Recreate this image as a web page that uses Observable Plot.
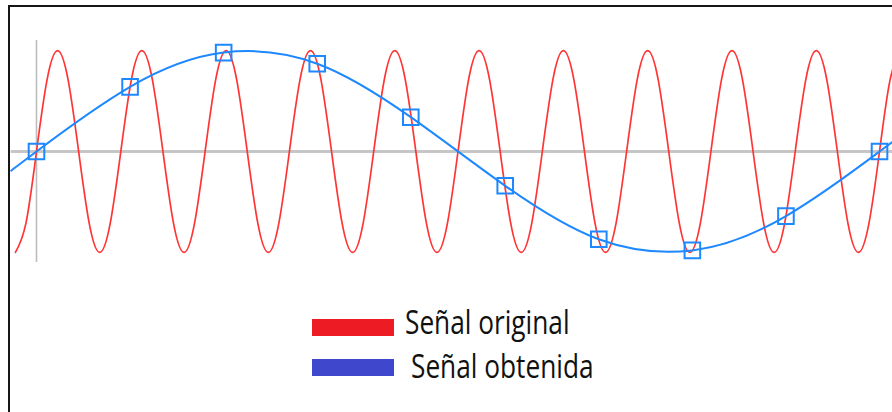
<!DOCTYPE html>
<html>
<head>
<meta charset="utf-8">
<script src="https://cdn.jsdelivr.net/npm/d3@7"></script>
<script src="https://cdn.jsdelivr.net/npm/@observablehq/plot@0.6"></script>
<style>
  body { margin: 0; background: #fff; }
  #lienzo { position: relative; width: 892px; height: 412px; overflow: hidden; }
  #grafico { position: absolute; left: 0; top: 0; }
  #marco { position: absolute; left: 8px; top: 5px; width: 2000px; height: 2000px;
           border-left: 2px solid #161616; border-top: 2px solid #161616; }
  .barra { position: absolute; width: 82px; height: 17px; }
  .texto { position: absolute; font-family: "Open Sans", sans-serif; font-size: 32px;
           line-height: 32px; color: #111; white-space: nowrap;
           transform: scaleX(0.82); transform-origin: left center; }
</style>
</head>
<body>
<div id="lienzo">
  <div id="grafico"></div>
  <div id="marco"></div>
  <div id="leyenda"></div>
</div>
<script>
// Señal original: una senoide de periodo 1 (puntos cada octavo de periodo)
const tiempoOriginal = [
  -0.25,-0.125,0,0.125,0.25,0.375,0.5,0.625,
  0.75,0.875,1,1.125,1.25,1.375,1.5,1.625,
  1.75,1.875,2,2.125,2.25,2.375,2.5,2.625,
  2.75,2.875,3,3.125,3.25,3.375,3.5,3.625,
  3.75,3.875,4,4.125,4.25,4.375,4.5,4.625,
  4.75,4.875,5,5.125,5.25,5.375,5.5,5.625,
  5.75,5.875,6,6.125,6.25,6.375,6.5,6.625,
  6.75,6.875,7,7.125,7.25,7.375,7.5,7.625,
  7.75,7.875,8,8.125,8.25,8.375,8.5,8.625,
  8.75,8.875,9,9.125,9.25,9.375,9.5,9.625,
  9.75,9.875,10,10.125,10.25
];
const valorOriginal = [
  -1,-0.71,0,0.71,1,0.71,0,-0.71,
  -1,-0.71,0,0.71,1,0.71,0,-0.71,
  -1,-0.71,0,0.71,1,0.71,0,-0.71,
  -1,-0.71,0,0.71,1,0.71,0,-0.71,
  -1,-0.71,0,0.71,1,0.71,0,-0.71,
  -1,-0.71,0,0.71,1,0.71,0,-0.71,
  -1,-0.71,0,0.71,1,0.71,0,-0.71,
  -1,-0.71,0,0.71,1,0.71,0,-0.71,
  -1,-0.71,0,0.71,1,0.71,0,-0.71,
  -1,-0.71,0,0.71,1,0.71,0,-0.71,
  -1,-0.71,0,0.71,1
];

// Instantes de muestreo y valores muestreados
const tiempoMuestras = [0, 1.11, 2.22, 3.33, 4.44, 5.56, 6.67, 7.78, 8.89, 10];
const valorMuestras  = [0, 0.64, 0.98, 0.87, 0.34, -0.34, -0.87, -0.98, -0.64, 0];

// Señal obtenida (reconstruida a partir de las muestras), con sus extremos
const tiempoObtenida = [-0.3, ...tiempoMuestras, 10.16];
const valorObtenida  = [-0.19, ...valorMuestras, 0.1];

// Leyenda
const series  = ["Señal original", "Señal obtenida"];
const colores = ["#ed1c24", "#3f48cc"];

// Extensión visible del eje de tiempo y del eje horizontal
const dominioTiempo = [-0.427, 10.154];
const ejeHorizontal = [-0.3, 10.154];

const original = tiempoOriginal.map((t, i) => ({t, v: valorOriginal[i]}));
const muestras = tiempoMuestras.map((t, i) => ({t, v: valorMuestras[i]}));
const obtenida = tiempoObtenida.map((t, i) => ({t, v: valorObtenida[i]}));

const grafico = Plot.plot({
  width: 892,
  height: 290,
  marginLeft: 0,
  marginRight: 0,
  marginTop: 40,
  marginBottom: 28,
  x: {domain: dominioTiempo, axis: null},
  y: {domain: [-1.1, 1.1], axis: null},
  marks: [
    Plot.ruleY([0], {x1: ejeHorizontal[0], x2: ejeHorizontal[1], stroke: "#c6c6c6", strokeWidth: 3}),
    Plot.ruleX([0], {stroke: "#bdbdbd", strokeWidth: 1.6}),
    Plot.line(original, {x: "t", y: "v", curve: "natural", stroke: "#ff3535", strokeWidth: 1.7, clip: true}),
    Plot.line(obtenida, {x: "t", y: "v", curve: "natural", stroke: "#1e88ff", strokeWidth: 2, clip: true}),
    Plot.dot(muestras, {x: "t", y: "v", symbol: "square", r: 8.8, stroke: "#1e88ff", strokeWidth: 2, fill: "none"})
  ]
});
document.getElementById("grafico").append(grafico);

// Leyenda debajo del gráfico
const leyenda = document.getElementById("leyenda");
const filas = [
  {barraTop: 319, textoLeft: 405, textoTop: 306},
  {barraTop: 359, textoLeft: 411, textoTop: 350}
];
series.forEach((nombre, i) => {
  const barra = document.createElement("div");
  barra.className = "barra";
  barra.style.left = "312px";
  barra.style.top = filas[i].barraTop + "px";
  barra.style.background = colores[i];
  leyenda.append(barra);
  const texto = document.createElement("div");
  texto.className = "texto";
  texto.style.left = filas[i].textoLeft + "px";
  texto.style.top = filas[i].textoTop + "px";
  texto.textContent = nombre;
  leyenda.append(texto);
});
</script>
</body>
</html>
